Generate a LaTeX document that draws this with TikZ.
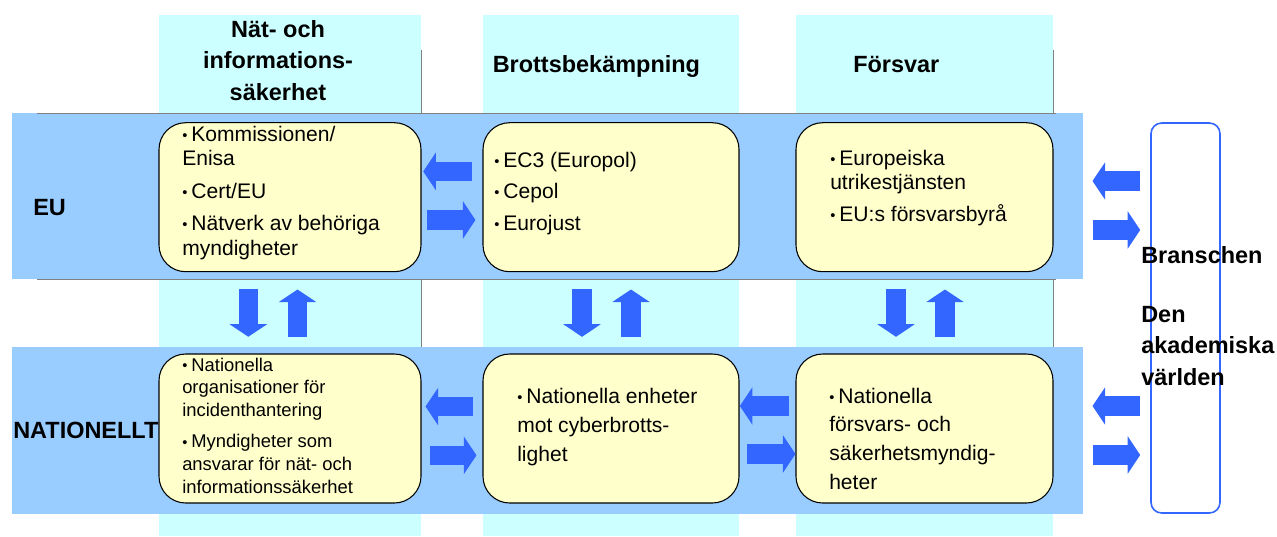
\documentclass[tikz,border=0pt]{standalone}
\usepackage{fontspec}
\setmainfont{Liberation Sans}
\usetikzlibrary{arrows.meta,calc}
\definecolor{colcyan}{RGB}{204,255,255}
\definecolor{bandblue}{RGB}{153,204,255}
\definecolor{boxyellow}{RGB}{255,255,204}
\definecolor{arrowblue}{RGB}{51,102,255}
\newcommand{\blt}{\raisebox{0.6pt}{\fontsize{11}{11}\selectfont\textbullet}\hspace{3pt}}

\begin{document}
\begin{tikzpicture}[x=0.75pt,y=-0.75pt,
  box/.style={draw=black, line width=0.8pt, fill=boxyellow, rounded corners=20pt, minimum height=111.75pt, inner sep=0pt},
  txt/.style={anchor=base west, align=left, inner sep=0pt, font=\fontsize{15.8}{18.4}\selectfont},
  head/.style={inner sep=0pt, font=\bfseries\fontsize{17.6}{23.6}\selectfont},
  blockarr/.style={arrowblue, line width=14.6pt, -{Triangle[width=28.1pt,length=9.4pt,line width=0pt]}}]
\useasboundingbox (0,0) rectangle (1277,536);
\fill[colcyan] (159,15) rectangle (421,536);
\fill[colcyan] (483,15) rectangle (739,536);
\fill[colcyan] (796,15) rectangle (1053,536);
\draw[gray, line width=0.7pt] (421,50) -- (421,347);
\draw[gray, line width=0.7pt] (1053,50) -- (1053,347);

\fill[bandblue] (12,113) rectangle (1083,279);
\fill[bandblue] (12,347) rectangle (1083,514);
\draw[gray, line width=0.7pt] (37,113) -- (1056,113);
\draw[gray, line width=0.7pt] (37,279) -- (1056,279);

\node[head, align=center, anchor=base] (hnis) at (278,100) {Nät- och\\informations-\\säkerhet};
\node[head, anchor=base west] (hbrott) at (492.5,72.7) {Brottsbekämpning};
\node[head, anchor=base west] (hforsvar) at (853,72.7) {Försvar};
\node[head, anchor=base west] (leu) at (33,215) {EU};
\node[head, anchor=base west] (lnat) at (13,438) {NATIONELLT};

\node[box, minimum width=196.5pt] (eu1) at (290,197.2) {};
\node[box, minimum width=192pt] (eu2) at (611,197.2) {};
\node[box, minimum width=192.75pt] (eu3) at (924.5,197.2) {};
\node[box, minimum width=196.5pt] (nat1) at (290,428.5) {};
\node[box, minimum width=192pt] (nat2) at (611,428.5) {};
\node[box, minimum width=192.75pt] (nat3) at (924.5,428.5) {};

\node[txt] (eu1t) at (182,255) {\blt Kommissionen/\\Enisa\\[5.8pt]\blt Cert/EU\\[5.8pt]\blt Nätverk av behöriga\\myndigheter};
\node[txt] (eu2t) at (494,230) {\blt EC3 (Europol)\\[5.2pt]\blt Cepol\\[5.2pt]\blt Eurojust};
\node[txt] (eu3t) at (830,221.7) {\blt Europeiska\\utrikestjänsten\\[5.5pt]\blt EU:s försvarsbyrå};
\node[txt, font=\fontsize{13.8}{16.9}\selectfont] (nat1t) at (182,493) {\blt Nationella\\organisationer för\\incidenthantering\\[6.7pt]\blt Myndigheter som\\ansvarar för nät- och\\informationssäkerhet};
\node[txt, font=\fontsize{15.8}{21.75}\selectfont] (nat2t) at (517,461.7) {\blt Nationella enheter\\mot cyberbrotts-\\lighet};
\node[txt, font=\fontsize{15.8}{21.4}\selectfont] (nat3t) at (829,489) {\blt Nationella\\försvars- och\\säkerhetsmyndig-\\heter};

\node[draw=arrowblue, line width=1.2pt, rounded corners=8pt, minimum width=51.75pt, minimum height=292.5pt, inner sep=0pt] (bra) at (1185.5,318) {};
\node[head, align=left, anchor=base west] (brat) at (1141,385) {Branschen\\[20.6pt]Den\\akademiska\\världen};

\draw[blockarr] ($(eu2.west)+(-10.7,-25.8)$) -- ($(eu1.east)+(1.7,-25.8)$);
\draw[blockarr] ($(eu1.east)+(5.7,22.8)$) -- ($(eu2.west)+(-7,22.8)$);
\draw[blockarr] ($(nat2.west)+(-9,-22)$) -- ($(nat1.east)+(4,-22)$);
\draw[blockarr] ($(nat1.east)+(8,26.8)$) -- ($(nat2.west)+(-6,26.8)$);
\draw[blockarr] ($(nat3.west)+(-6,-22.5)$) -- ($(nat2.east)+(0.3,-22.5)$);
\draw[blockarr] ($(nat2.east)+(7.7,25.5)$) -- ($(nat3.west)+(0,25.5)$);
\draw[blockarr] ($(bra.west |- eu3.east)+(-10,-16.2)$) -- ($(eu3.east)+(39,-16.2)$);
\draw[blockarr] ($(eu3.east)+(39,32.8)$) -- ($(bra.west |- eu3.east)+(-10,32.8)$);
\draw[blockarr] ($(bra.west |- nat3.east)+(-10,-22.5)$) -- ($(nat3.east)+(39,-22.5)$);
\draw[blockarr] ($(nat3.east)+(39,26.5)$) -- ($(bra.west |- nat3.east)+(-10,26.5)$);

\draw[blockarr] ($(eu1.south)+(-41.7,16.6)$) -- ($(nat1.north)+(-41.7,-16.7)$);
\draw[blockarr] ($(nat1.north)+(7.5,-16.7)$) -- ($(eu1.south)+(7.5,17.3)$);
\draw[blockarr] ($(eu2.south)+(-29,16.6)$) -- ($(nat2.north)+(-29,-16.7)$);
\draw[blockarr] ($(nat2.north)+(20,-16.7)$) -- ($(eu2.south)+(20,17.3)$);
\draw[blockarr] ($(eu3.south)+(-28.5,16.6)$) -- ($(nat3.north)+(-28.5,-16.7)$);
\draw[blockarr] ($(nat3.north)+(20.5,-16.7)$) -- ($(eu3.south)+(20.5,17.3)$);
\end{tikzpicture}
\end{document}
